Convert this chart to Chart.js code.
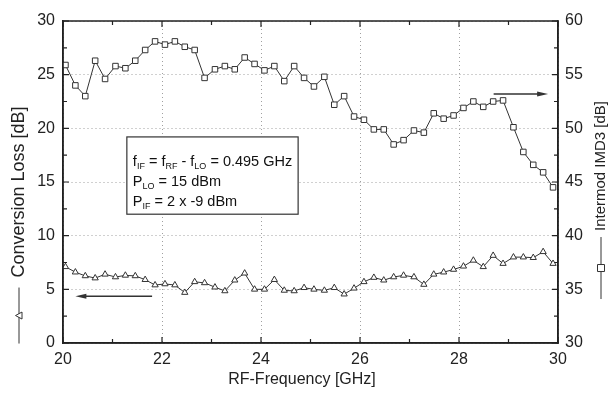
<!DOCTYPE html>
<html>
<head>
<meta charset="utf-8">
<script src="https://cdn.jsdelivr.net/npm/chart.js@4"></script>
<style>
  html, body { margin: 0; padding: 0; background: #ffffff; }
  #wrap { width: 612px; height: 399px; }
</style>
</head>
<body>
<div id="wrap"><canvas id="c" width="612" height="399"></canvas></div>
<script>
// ---- Data ----
const freqGHz = [20.05,20.25,20.45,20.65,20.85,21.06,21.26,21.46,21.66,21.86,
                 22.06,22.26,22.46,22.66,22.86,23.07,23.27,23.47,23.67,23.87,
                 24.07,24.27,24.47,24.67,24.87,25.07,25.28,25.48,25.68,25.88,
                 26.08,26.28,26.48,26.68,26.88,27.09,27.29,27.49,27.69,27.89,
                 28.09,28.29,28.49,28.69,28.89,29.10,29.30,29.50,29.70,29.90];
const conversionLoss = [7.1,6.6,6.25,6.05,6.4,6.15,6.3,6.25,5.9,5.4,
                        5.5,5.4,4.7,5.7,5.6,5.2,4.85,5.85,6.5,5.0,
                        5.0,5.9,4.9,4.85,5.15,5.0,4.9,5.15,4.55,5.1,
                        5.7,6.1,5.85,6.15,6.3,6.15,5.45,6.4,6.6,6.85,
                        7.15,7.7,7.1,8.15,7.4,8.0,8.0,7.95,8.5,7.4];
const imd3 = [55.9,54.0,53.0,56.3,54.6,55.8,55.6,56.3,57.3,58.1,
              57.8,58.1,57.6,57.3,54.7,55.5,55.8,55.5,56.6,56.0,
              55.4,55.8,54.4,55.8,54.7,53.9,54.8,52.2,53.0,51.1,
              50.8,49.9,49.9,48.5,48.9,49.8,49.6,51.4,50.9,51.2,
              51.9,52.5,52.0,52.5,52.6,50.1,47.8,46.6,45.9,44.5];
const xTicks = [20,22,24,26,28,30];
const yLeftTicks = [0,5,10,15,20,25,30];
const yRightTicks = [30,35,40,45,50,55,60];
const xTitle = 'RF-Frequency [GHz]';
const yLeftTitle = 'Conversion Loss [dB]';
const yRightTitle = 'Intermod IMD3 [dB]';
// annotation anchors in data units
const boxAnchor = { x0: 21.29, x1: 24.75, yTop: 19.2, yBot: 12.0 };
const leftArrow = { from: 21.8, to: 20.25, y: 4.35 };
const rightArrow = { from: 28.7, to: 29.8, y: 53.2 };

const INK = '#222';
const FONT = '"Liberation Sans", Arial, sans-serif';

function drawSubText(ctx, parts, x, y, size) {
  let cx = x;
  for (const [t, sub] of parts) {
    if (sub) {
      ctx.font = (size * 0.62).toFixed(1) + 'px ' + FONT;
      ctx.fillText(t, cx, y + size * 0.3);
    } else {
      ctx.font = size + 'px ' + FONT;
      ctx.fillText(t, cx, y);
    }
    cx += ctx.measureText(t).width;
  }
}

function drawArrow(ctx, x0, x1, y) {
  const dir = Math.sign(x1 - x0);
  ctx.save();
  ctx.strokeStyle = '#333'; ctx.fillStyle = '#333'; ctx.lineWidth = 1.6;
  ctx.beginPath(); ctx.moveTo(x0, y); ctx.lineTo(x1 - dir * 8, y); ctx.stroke();
  ctx.beginPath();
  ctx.moveTo(x1, y); ctx.lineTo(x1 - dir * 11, y - 2.5); ctx.lineTo(x1 - dir * 11, y + 2.5);
  ctx.closePath(); ctx.fill();
  ctx.restore();
}

function legendSymbol(ctx, cx, cy, len, style) {
  ctx.save();
  ctx.strokeStyle = '#333'; ctx.lineWidth = 1; ctx.fillStyle = '#fff';
  ctx.beginPath(); ctx.moveTo(cx - len / 2, cy); ctx.lineTo(cx + len / 2, cy); ctx.stroke();
  ctx.beginPath();
  if (style === 'tri') {
    ctx.moveTo(cx - 3.5, cy + 3); ctx.lineTo(cx + 3.5, cy + 3); ctx.lineTo(cx, cy - 3.5); ctx.closePath();
  } else {
    ctx.rect(cx - 3.5, cy - 3.5, 7, 7);
  }
  ctx.fill(); ctx.stroke();
  ctx.restore();
}

const decor = {
  id: 'decor',
  beforeDatasetsDraw(chart) {
    const { ctx, chartArea: a, scales } = chart;
    const x = scales.x, yl = scales.y, yr = scales.y1;
    ctx.save();
    ctx.strokeStyle = INK; ctx.lineWidth = 1.2;
    ctx.beginPath();
    for (let v = 20; v <= 30; v += 1) {
      const px = x.getPixelForValue(v);
      const L = (v % 2 === 0) ? 6 : 4;
      ctx.moveTo(px, a.bottom); ctx.lineTo(px, a.bottom - L);
      ctx.moveTo(px, a.top); ctx.lineTo(px, a.top + L);
    }
    for (let v = 0; v <= 30; v += 2.5) {
      const py = yl.getPixelForValue(v);
      const L = (v % 5 === 0) ? 6 : 4;
      ctx.moveTo(a.left, py); ctx.lineTo(a.left + L, py);
    }
    for (let v = 30; v <= 60; v += 2.5) {
      const py = yr.getPixelForValue(v);
      const L = (v % 5 === 0) ? 6 : 4;
      ctx.moveTo(a.right, py); ctx.lineTo(a.right - L, py);
    }
    ctx.stroke();
    ctx.restore();
  },
  afterDraw(chart) {
    const { ctx, chartArea: a, scales } = chart;
    const x = scales.x, yl = scales.y, yr = scales.y1;
    ctx.save();
    ctx.strokeStyle = INK; ctx.lineWidth = 1.5;
    ctx.strokeRect(a.left, a.top, a.right - a.left, a.bottom - a.top);

    // info box
    const bx0 = x.getPixelForValue(boxAnchor.x0), bx1 = x.getPixelForValue(boxAnchor.x1);
    const by0 = yl.getPixelForValue(boxAnchor.yTop), by1 = yl.getPixelForValue(boxAnchor.yBot);
    ctx.fillStyle = '#fff';
    ctx.fillRect(bx0, by0, bx1 - bx0, by1 - by0);
    ctx.strokeStyle = '#333'; ctx.lineWidth = 1.2;
    ctx.strokeRect(bx0, by0, bx1 - bx0, by1 - by0);
    ctx.fillStyle = '#111'; ctx.textBaseline = 'middle'; ctx.textAlign = 'left';
    const tx = bx0 + 6, fs = 14.5;
    drawSubText(ctx, [['f'], ['IF', 1], [' = f'], ['RF', 1], [' - f'], ['LO', 1], [' = 0.495 GHz']], tx, by0 + 25, fs);
    drawSubText(ctx, [['P'], ['LO', 1], [' = 15 dBm']], tx, by0 + 45, fs);
    drawSubText(ctx, [['P'], ['IF', 1], [' = 2 x -9 dBm']], tx, by0 + 65, fs);

    drawArrow(ctx, x.getPixelForValue(leftArrow.from), x.getPixelForValue(leftArrow.to), yl.getPixelForValue(leftArrow.y));
    drawArrow(ctx, x.getPixelForValue(rightArrow.from), x.getPixelForValue(rightArrow.to), yr.getPixelForValue(rightArrow.y));

    // x title
    ctx.fillStyle = INK; ctx.font = '16px ' + FONT; ctx.textAlign = 'center';
    ctx.fillText(xTitle, 302, 380);

    // left title (rotated) with symbol
    ctx.save();
    ctx.translate(19, 225);
    ctx.rotate(-Math.PI / 2);
    ctx.font = '18px ' + FONT; ctx.textAlign = 'left'; ctx.fillStyle = INK;
    const lw = ctx.measureText(yLeftTitle).width;
    const symL = 56, gap = 10;
    const startL = -(symL + gap + lw) / 2;
    legendSymbol(ctx, startL + symL / 2, 0, symL, 'tri');
    ctx.fillText(yLeftTitle, startL + symL + gap, 0);
    ctx.restore();

    // right title (rotated) with symbol
    ctx.save();
    ctx.translate(601, 200);
    ctx.rotate(-Math.PI / 2);
    ctx.font = '15px ' + FONT; ctx.textAlign = 'left'; ctx.fillStyle = INK;
    const rw = ctx.measureText(yRightTitle).width;
    const symR = 62, gapR = 6;
    const startR = -(symR + gapR + rw) / 2;
    legendSymbol(ctx, startR + symR / 2, 0, symR, 'sq');
    ctx.fillText(yRightTitle, startR + symR + gapR, 0);
    ctx.restore();

    ctx.restore();
  }
};

const gridStyle = { color: '#a0a0a0', lineWidth: 1, drawTicks: false };

new Chart(document.getElementById('c'), {
  type: 'line',
  data: {
    datasets: [
      {
        label: 'Conversion Loss',
        data: freqGHz.map((f, i) => ({ x: f, y: conversionLoss[i] })),
        yAxisID: 'y',
        borderColor: '#333', borderWidth: 1,
        pointStyle: 'triangle', pointRadius: 3.6,
        pointBackgroundColor: '#fff', pointBorderColor: '#333', pointBorderWidth: 1,
        tension: 0
      },
      {
        label: 'Intermod IMD3',
        data: freqGHz.map((f, i) => ({ x: f, y: imd3[i] })),
        yAxisID: 'y1',
        borderColor: '#333', borderWidth: 1,
        pointStyle: 'rect', pointRadius: 3.9,
        pointBackgroundColor: '#fff', pointBorderColor: '#333', pointBorderWidth: 1,
        tension: 0
      }
    ]
  },
  options: {
    responsive: false,
    animation: false,
    events: [],
    layout: { padding: { top: 21, left: 0, right: 0, bottom: 0 } },
    plugins: { legend: { display: false }, tooltip: { enabled: false } },
    scales: {
      x: {
        type: 'linear', min: 20, max: 30,
        afterBuildTicks: s => { s.ticks = xTicks.map(v => ({ value: v })); },
        afterFit: s => { s.height = 56; },
        grid: gridStyle,
        border: { display: true, color: INK, width: 1.5, dash: [1, 3] },
        ticks: { color: INK, font: { family: FONT, size: 16 }, padding: 7, maxRotation: 0 }
      },
      y: {
        type: 'linear', position: 'left', min: 0, max: 30,
        afterBuildTicks: s => { s.ticks = yLeftTicks.map(v => ({ value: v })); },
        afterFit: s => { s.width = 63; },
        grid: gridStyle,
        border: { display: true, color: INK, width: 1.5, dash: [1, 3] },
        ticks: { color: INK, font: { family: FONT, size: 16 }, padding: 8 }
      },
      y1: {
        type: 'linear', position: 'right', min: 30, max: 60,
        afterBuildTicks: s => { s.ticks = yRightTicks.map(v => ({ value: v })); },
        afterFit: s => { s.width = 54; },
        grid: { display: false, drawTicks: false },
        border: { display: true, color: INK, width: 1.5 },
        ticks: { color: INK, font: { family: FONT, size: 16 }, padding: 7 }
      }
    }
  },
  plugins: [decor]
});
</script>
</body>
</html>
